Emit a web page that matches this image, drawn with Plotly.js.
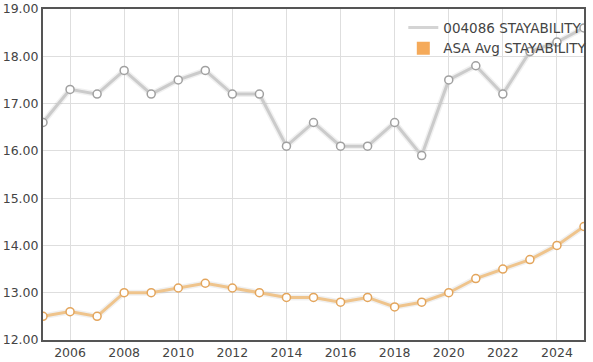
<!DOCTYPE html>
<html>
<head>
<meta charset="utf-8">
<script src="https://cdn.plot.ly/plotly-3.0.1.min.js"></script>
<style>
html,body{margin:0;padding:0;background:#fff;}
#chart{width:593px;height:362px;}
</style>
</head>
<body>
<div id="chart"></div>
<script>
var years = [2005,2006,2007,2008,2009,2010,2011,2012,2013,2014,2015,2016,2017,2018,2019,2020,2021,2022,2023,2024,2025];
var bullValues = [16.6,17.3,17.2,17.7,17.2,17.5,17.7,17.2,17.2,16.1,16.6,16.1,16.1,16.6,15.9,17.5,17.8,17.2,18.1,18.3,18.6];
var avgValues = [12.5,12.6,12.5,13.0,13.0,13.1,13.2,13.1,13.0,12.9,12.9,12.8,12.9,12.7,12.8,13.0,13.3,13.5,13.7,14.0,14.4];
var seriesNames = ["004086 STAYABILITY", "ASA Avg STAYABILITY"];
var yTicks = [12,13,14,15,16,17,18,19];
var xTicks = [2006,2008,2010,2012,2014,2016,2018,2020,2022,2024];

var traces = [
  {x: years, y: bullValues, mode: 'lines', line: {color: 'rgba(0,0,0,0.06)', width: 6}, showlegend: false, hoverinfo: 'skip'},
  {x: years, y: avgValues, mode: 'lines', line: {color: 'rgba(0,0,0,0.06)', width: 6}, showlegend: false, hoverinfo: 'skip'},
  {x: years, y: bullValues, mode: 'lines+markers', name: seriesNames[0], showlegend: false,
   line: {color: '#cbcbcb', width: 3},
   marker: {symbol: 'circle', size: 8, color: '#ffffff', line: {color: '#a0a0a0', width: 1.5}}},
  {x: years, y: avgValues, mode: 'lines+markers', name: seriesNames[1], showlegend: false,
   line: {color: '#efc48c', width: 3},
   marker: {symbol: 'circle', size: 8, color: '#ffffff', line: {color: '#e3a55c', width: 1.5}}},
  {x: [null], y: [null], mode: 'lines', name: seriesNames[0], line: {color: '#d4d4d4', width: 3}},
  {x: [null], y: [null], mode: 'markers', name: seriesNames[1], marker: {symbol: 'square', size: 13, color: '#f5aa5a'}}
];

var layout = {
  width: 593, height: 362,
  margin: {l: 43, r: 9, t: 9, b: 22, autoexpand: false},
  paper_bgcolor: '#ffffff', plot_bgcolor: '#ffffff',
  font: {family: 'DejaVu Sans, Verdana, sans-serif', size: 12, color: '#444'},
  xaxis: {
    range: [2005, 2025], tickvals: xTicks, ticktext: xTicks.map(String),
    showgrid: true, gridcolor: '#dedede', gridwidth: 1,
    showline: true, linecolor: '#555', linewidth: 2, mirror: true,
    ticks: '', zeroline: false, tickfont: {size: 12.5, color: '#444'}
  },
  yaxis: {
    range: [12, 19], tickvals: yTicks, ticktext: yTicks.map(function(v){return v.toFixed(2);}),
    showgrid: true, gridcolor: '#dedede', gridwidth: 1,
    showline: true, linecolor: '#555', linewidth: 2, mirror: true,
    ticks: '', zeroline: false, tickfont: {size: 12.5, color: '#444'}
  },
  showlegend: true,
  legend: {x: 0.666, y: 0.99, xanchor: 'left', yanchor: 'top', bgcolor: 'rgba(0,0,0,0)',
           font: {size: 13.5, color: '#444'}, itemwidth: 30, tracegroupgap: 0}
};

Plotly.newPlot('chart', traces, layout, {displayModeBar: false, staticPlot: true});
</script>
</body>
</html>
